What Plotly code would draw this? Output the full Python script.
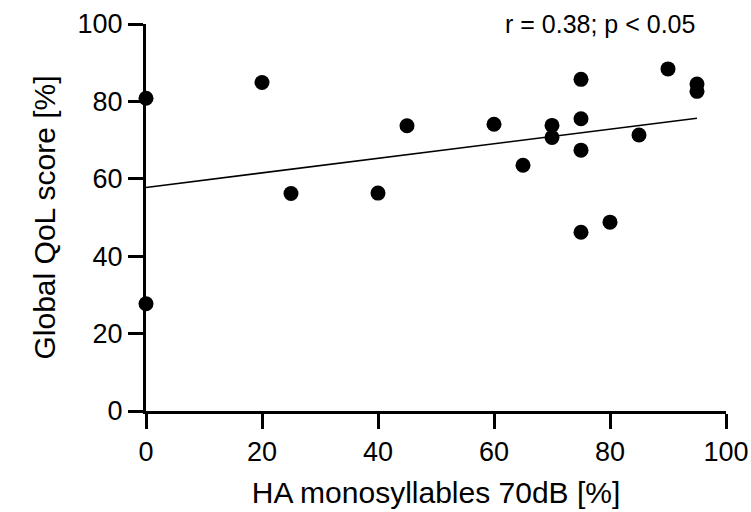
import numpy as np
import plotly.graph_objects as go

# Data
ha_mono_70db = [0, 0, 20, 25, 40, 45, 60, 65, 70, 70, 75, 75, 75, 75, 80, 85, 90, 95, 95]
global_qol = [80.8, 27.7, 84.9, 56.2, 56.3, 73.7, 74.1, 63.5, 73.8, 70.7,
              85.7, 75.5, 67.4, 46.2, 48.8, 71.3, 88.4, 84.5, 82.6]
x_ticks = [0, 20, 40, 60, 80, 100]
y_ticks = [0, 20, 40, 60, 80, 100]
annotation_text = "r = 0.38; p < 0.05"

slope, intercept = np.polyfit(ha_mono_70db, global_qol, 1)
fit_x = [min(ha_mono_70db), max(ha_mono_70db)]
fit_y = [intercept + slope * v for v in fit_x]

FONT = "Liberation Sans, Arial, sans-serif"

fig = go.Figure()
fig.add_trace(go.Scatter(
    x=fit_x, y=fit_y, mode="lines",
    line=dict(color="black", width=1.5),
    showlegend=False, hoverinfo="skip", cliponaxis=False,
))
fig.add_trace(go.Scatter(
    x=ha_mono_70db, y=global_qol, mode="markers",
    marker=dict(color="black", size=15, line=dict(width=0)),
    showlegend=False, cliponaxis=False,
))

axis_common = dict(
    showgrid=False, zeroline=False, showline=True, linecolor="black", linewidth=3,
    ticks="outside", ticklen=15, tickwidth=3, tickcolor="black",
    tickfont=dict(family=FONT, size=27, color="black"),
    ticklabeloverflow="allow", automargin=False,
    range=[0, 100],
)

fig.update_layout(
    width=751, height=512,
    margin=dict(l=146, r=25, t=24, b=101),
    paper_bgcolor="white", plot_bgcolor="white",
    font=dict(family=FONT, color="black"),
    xaxis=dict(**axis_common, tickvals=x_ticks,
               title=dict(text="HA monosyllables 70dB [%]",
                          font=dict(family=FONT, size=30, color="black"), standoff=16)),
    yaxis=dict(**axis_common, tickvals=y_ticks,
               title=dict(text="Global QoL score [%]",
                          font=dict(family=FONT, size=30, color="black"), standoff=14)),
    annotations=[dict(
        text=annotation_text, x=95, y=100, xref="x", yref="y",
        xanchor="right", yanchor="middle", showarrow=False,
        font=dict(family=FONT, size=25, color="black"),
    )],
)

fig.write_html("out.html")
